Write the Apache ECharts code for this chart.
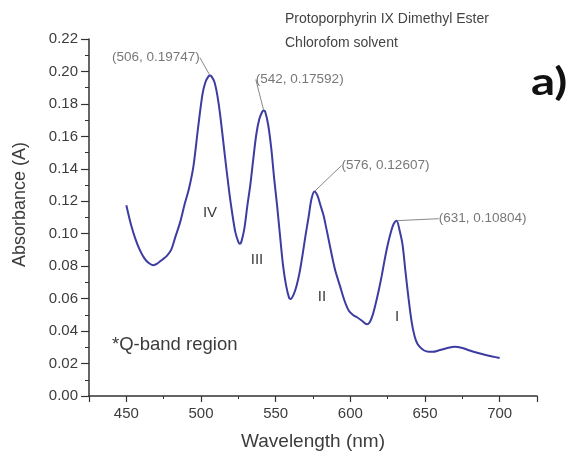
<!DOCTYPE html>
<html>
<head>
<meta charset="utf-8">
<script src="https://cdn.jsdelivr.net/npm/echarts@6/dist/echarts.min.js"></script>
<style>
html,body{margin:0;padding:0;background:#fff;}
#chart{width:581px;height:456px;}
</style>
</head>
<body>
<div id="chart"></div>
<script>
// Spectrum (wavelength in nm, absorbance in A)
const wavelengths = [450,453,456,459,462,465,468,471,474,477,480,483,486,489,492,495,498,501,503,505,506,507,509,511,513,516,519,521,523,525,526,527,529,531,533,535,537,539,541,542,543,545,547,549,551,553,555,557,559,560,562,564,566,568,570,572,574,576,578,580,582,584,586,588,590,593,596,599,602,605,608,611,613,615,617,619,621,623,625,627,629,631,633,635,637,639,641,643,645,648,651,655,660,665,670,675,680,685,690,695,700];
const absorbance = [0.1175,0.106,0.097,0.090,0.085,0.082,0.0806,0.0818,0.0840,0.0862,0.0900,0.0985,0.107,0.118,0.128,0.142,0.165,0.186,0.1935,0.1970,0.19747,0.1970,0.1935,0.1850,0.172,0.148,0.125,0.112,0.101,0.0950,0.0938,0.0950,0.103,0.117,0.130,0.146,0.161,0.1705,0.1752,0.17592,0.1752,0.167,0.153,0.134,0.117,0.098,0.080,0.068,0.0605,0.0598,0.0625,0.068,0.076,0.087,0.099,0.110,0.1215,0.12607,0.1235,0.1175,0.1115,0.103,0.094,0.085,0.077,0.068,0.059,0.0525,0.0498,0.0482,0.0462,0.0442,0.0455,0.050,0.057,0.065,0.074,0.084,0.093,0.1005,0.1060,0.10804,0.1020,0.0930,0.076,0.060,0.046,0.037,0.0320,0.0290,0.0275,0.0272,0.0283,0.0296,0.0304,0.0296,0.0280,0.0266,0.0254,0.0244,0.0234];

// Annotated peaks
const peakWavelengths = [506, 542, 576, 631];
const peakValues = [0.19747, 0.17592, 0.12607, 0.10804];

// Axis settings
const xMin = 425, xMax = 725;
const yMin = 0, yMax = 0.22, yStep = 0.02;

const titleLines = ['Protoporphyrin IX Dimethyl Ester', 'Chlorofom solvent'];
const bandNames = ['IV', 'III', 'II', 'I'];

const FONT = '"Liberation Sans", Arial, sans-serif';
const TXT = '#3c3c3c';

const chart = echarts.init(document.getElementById('chart'), null, {renderer: 'canvas'});

const peakOffsets = [[-54, -18], [36, -31], [71, -26], [86, -2]];

const option = {
  animation: false,
  backgroundColor: '#fff',
  grid: {left: 89, right: 44, top: 39, bottom: 54},
  xAxis: {
    type: 'value',
    min: xMin, max: xMax,
    name: 'Wavelength (nm)',
    nameLocation: 'middle',
    nameGap: 36,
    nameTextStyle: {fontFamily: FONT, fontSize: 19, color: TXT},
    axisLine: {show: true, lineStyle: {color: '#333', width: 1.5}},
    axisTick: {show: true, length: 6, lineStyle: {color: '#333', width: 1.2}},
    minorTick: {show: true, splitNumber: 2, length: 3, lineStyle: {color: '#333', width: 1}},
    axisLabel: {
      fontFamily: FONT, fontSize: 15, color: TXT, margin: 10,
      formatter: v => (v % 50 === 0 ? String(v) : '')
    },
    splitLine: {show: false}
  },
  yAxis: {
    type: 'value',
    min: yMin, max: yMax, interval: yStep,
    name: 'Absorbance (A)',
    nameLocation: 'middle',
    nameGap: 60,
    nameTextStyle: {fontFamily: FONT, fontSize: 18, color: TXT, padding: [0, 0, 0, 26]},
    axisLine: {show: true, lineStyle: {color: '#333', width: 1.5}},
    axisTick: {show: true, length: 8, lineStyle: {color: '#333', width: 1.2}},
    minorTick: {show: true, splitNumber: 2, length: 4, lineStyle: {color: '#333', width: 1}},
    axisLabel: {
      fontFamily: FONT, fontSize: 15, color: TXT, margin: 11,
      formatter: v => v.toFixed(2)
    },
    splitLine: {show: false}
  },
  series: [
    {
      type: 'line',
      data: wavelengths.map((w, i) => [w, absorbance[i]]),
      showSymbol: false,
      smooth: 0.3,
      lineStyle: {color: '#3c3ca2', width: 2},
      z: 2
    },
    {
      type: 'scatter',
      data: peakWavelengths.map((w, i) => [w, peakValues[i]]),
      symbolSize: 1,
      itemStyle: {color: 'rgba(0,0,0,0)'},
      label: {
        show: true,
        position: 'inside',
        align: 'center',
        verticalAlign: 'middle',
        fontFamily: FONT,
        fontSize: 13.5,
        color: '#555',
        formatter: p => '(' + p.value[0] + ', ' + p.value[1].toFixed(5) + ')'
      },
      labelLayout: p => ({dx: peakOffsets[p.dataIndex][0], dy: peakOffsets[p.dataIndex][1]}),
      labelLine: {show: true, lineStyle: {color: '#888', width: 1}},
      z: 3
    }
  ],
  graphic: [
    {type: 'text', left: 285, top: 12, style: {text: titleLines[0], fontFamily: FONT, fontSize: 14, fill: '#444'}},
    {type: 'text', left: 285, top: 36, style: {text: titleLines[1], fontFamily: FONT, fontSize: 14, fill: '#444'}},
    {type: 'text', x: 531, y: 64, scaleX: 1.25, style: {text: 'a)', fontFamily: 'Lato, "Open Sans", sans-serif', fontWeight: 'bold', fontSize: 38, fill: '#111'}},
    {type: 'text', x: 210, y: 213, style: {text: bandNames[0], fontFamily: FONT, fontSize: 15, fill: TXT, align: 'center', verticalAlign: 'middle'}},
    {type: 'text', x: 257, y: 260, style: {text: bandNames[1], fontFamily: FONT, fontSize: 15, fill: TXT, align: 'center', verticalAlign: 'middle'}},
    {type: 'text', x: 322, y: 297, style: {text: bandNames[2], fontFamily: FONT, fontSize: 15, fill: TXT, align: 'center', verticalAlign: 'middle'}},
    {type: 'text', x: 397, y: 317, style: {text: bandNames[3], fontFamily: FONT, fontSize: 15, fill: TXT, align: 'center', verticalAlign: 'middle'}},
    {type: 'text', x: 112, y: 345, style: {text: '*Q-band region', fontFamily: FONT, fontSize: 18.5, fill: TXT, align: 'left', verticalAlign: 'middle'}}
  ]
};

chart.setOption(option);
</script>
</body>
</html>
